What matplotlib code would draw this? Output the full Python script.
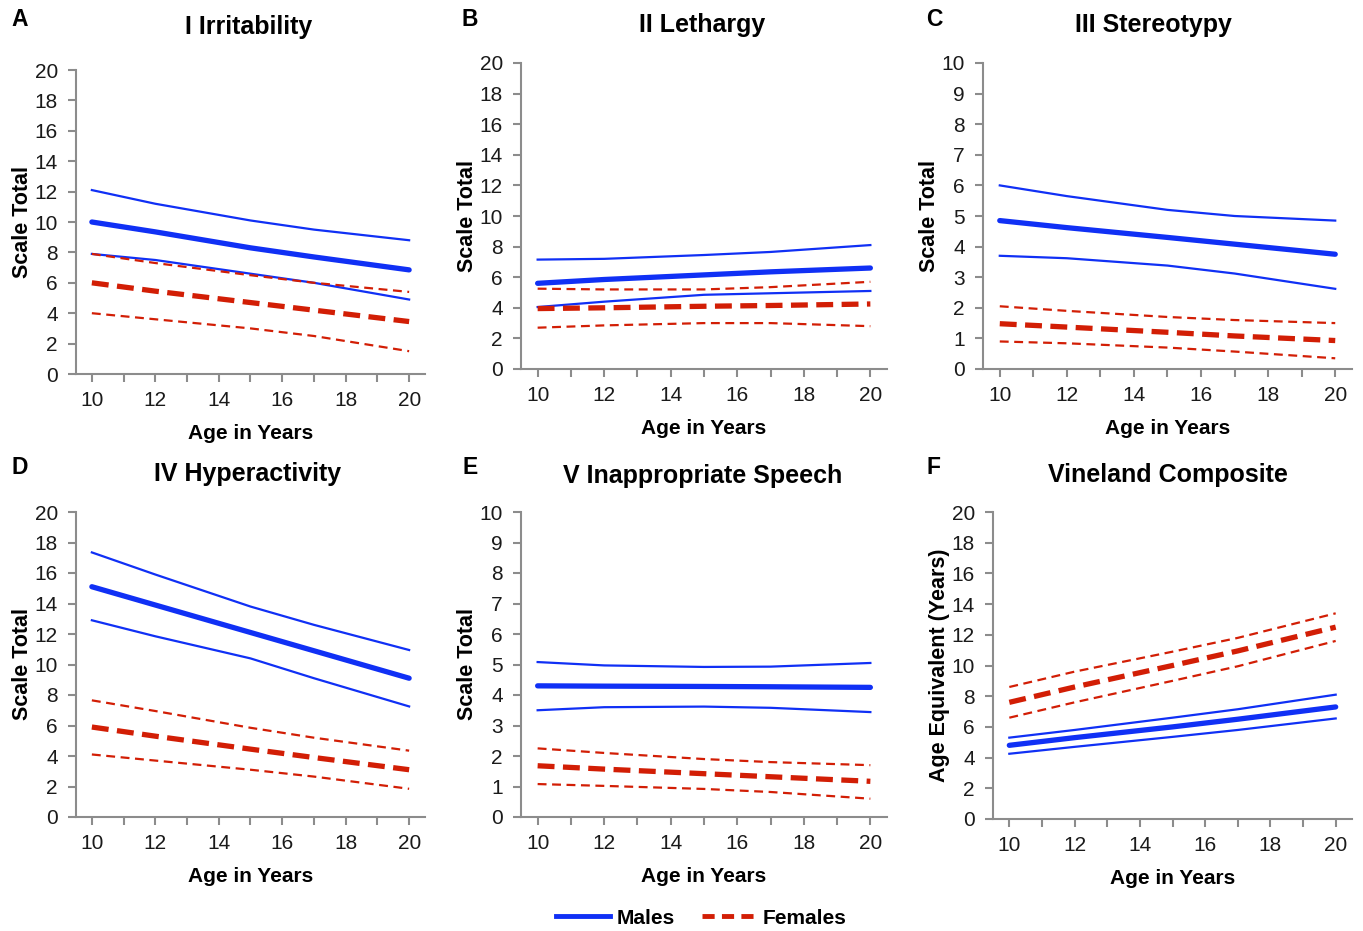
import numpy as np
import matplotlib.pyplot as plt
from matplotlib.lines import Line2D

plt.rcParams['font.family'] = ['Liberation Sans', 'DejaVu Sans']

ages = [10, 12, 15, 17, 20]

# panel A: Irritability
a_m_hi = [12.1, 11.2, 10.1, 9.5, 8.8]
a_m_mid = [10.0, 9.35, 8.3, 7.7, 6.85]
a_m_lo = [7.9, 7.5, 6.6, 6.0, 4.9]
a_f_hi = [7.9, 7.3, 6.5, 6.0, 5.4]
a_f_mid = [6.0, 5.45, 4.7, 4.2, 3.45]
a_f_lo = [4.0, 3.6, 3.0, 2.5, 1.5]

# panel B: Lethargy
b_m_hi = [7.15, 7.2, 7.45, 7.65, 8.1]
b_m_mid = [5.6, 5.85, 6.15, 6.35, 6.6]
b_m_lo = [4.05, 4.4, 4.85, 4.95, 5.1]
b_f_hi = [5.25, 5.2, 5.2, 5.35, 5.7]
b_f_mid = [3.95, 4.0, 4.1, 4.15, 4.25]
b_f_lo = [2.7, 2.85, 3.0, 3.0, 2.8]

# panel C: Stereotypy
c_m_hi = [6.0, 5.65, 5.2, 5.0, 4.85]
c_m_mid = [4.85, 4.62, 4.3, 4.08, 3.75]
c_m_lo = [3.7, 3.62, 3.38, 3.12, 2.62]
c_f_hi = [2.05, 1.9, 1.7, 1.6, 1.5]
c_f_mid = [1.48, 1.37, 1.2, 1.08, 0.93]
c_f_lo = [0.9, 0.84, 0.7, 0.57, 0.35]

# panel D: Hyperactivity
d_m_hi = [17.35, 15.9, 13.8, 12.6, 10.95]
d_m_mid = [15.1, 13.9, 12.1, 10.9, 9.1]
d_m_lo = [12.9, 11.85, 10.4, 9.1, 7.25]
d_f_hi = [7.65, 6.95, 5.85, 5.2, 4.35]
d_f_mid = [5.9, 5.3, 4.45, 3.9, 3.1]
d_f_lo = [4.1, 3.7, 3.1, 2.65, 1.85]

# panel E: Inappropriate speech
e_m_hi = [5.08, 4.97, 4.92, 4.93, 5.05]
e_m_mid = [4.3, 4.29, 4.28, 4.27, 4.25]
e_m_lo = [3.5, 3.6, 3.62, 3.58, 3.44]
e_f_hi = [2.25, 2.1, 1.9, 1.8, 1.7]
e_f_mid = [1.68, 1.57, 1.42, 1.32, 1.17]
e_f_lo = [1.08, 1.02, 0.92, 0.82, 0.6]

# panel F: Vineland composite
f_m_hi = [5.3, 5.8, 6.6, 7.15, 8.1]
f_m_mid = [4.8, 5.3, 6.0, 6.5, 7.3]
f_m_lo = [4.25, 4.7, 5.35, 5.8, 6.55]
f_f_hi = [8.6, 9.6, 10.9, 11.8, 13.4]
f_f_mid = [7.6, 8.6, 10.0, 10.95, 12.5]
f_f_lo = [6.6, 7.6, 9.0, 9.95, 11.6]

titles = ['I Irritability', 'II Lethargy', 'III Stereotypy',
          'IV Hyperactivity', 'V Inappropriate Speech', 'Vineland Composite']
letters = ['A', 'B', 'C', 'D', 'E', 'F']
ylabels = ['Scale Total'] * 5 + ['Age Equivalent (Years)']
ymax = [20, 20, 10, 20, 10, 20]

panels = [
    (a_m_hi, a_m_mid, a_m_lo, a_f_hi, a_f_mid, a_f_lo),
    (b_m_hi, b_m_mid, b_m_lo, b_f_hi, b_f_mid, b_f_lo),
    (c_m_hi, c_m_mid, c_m_lo, c_f_hi, c_f_mid, c_f_lo),
    (d_m_hi, d_m_mid, d_m_lo, d_f_hi, d_f_mid, d_f_lo),
    (e_m_hi, e_m_mid, e_m_lo, e_f_hi, e_f_mid, e_f_lo),
    (f_m_hi, f_m_mid, f_m_lo, f_f_hi, f_f_mid, f_f_lo),
]

W, H = 1363, 931
# axes boxes in pixels: left, top, right, bottom
boxes = [(76, 70, 425, 374), (521, 63, 887, 369), (983, 63, 1352, 369),
         (76, 512, 425, 817), (521, 512, 887, 817), (993, 512, 1352, 819)]
title_xy = [(249, 27), (702, 25), (1153, 25), (248, 474), (703, 476), (1168, 475)]
letter_xy = [(20, 20), (470, 20), (934, 20), (20, 467), (470, 467), (934, 467)]

blue = '#1030f5'
red = '#d21e05'
grey = '#8c8c8c'

fig = plt.figure(figsize=(W / 100, H / 100), dpi=100)

for i, (l, t, r, b) in enumerate(boxes):
    ax = fig.add_axes([l / W, 1 - b / H, (r - l) / W, (b - t) / H])
    m_hi, m_mid, m_lo, f_hi, f_mid, f_lo = panels[i]
    ax.plot(ages, m_hi, color=blue, lw=1.6)
    ax.plot(ages, m_lo, color=blue, lw=1.6)
    ax.plot(ages, m_mid, color=blue, lw=3.8, solid_capstyle='round')
    ax.plot(ages, f_hi, color=red, lw=1.6, dashes=(4, 2.5))
    ax.plot(ages, f_lo, color=red, lw=1.6, dashes=(4, 2.5))
    ax.plot(ages, f_mid, color=red, lw=3.8, dashes=(3.2, 1.6))

    ax.set_xlim(9.5, 20.5)
    ax.set_ylim(0, ymax[i])
    ax.set_xticks(range(10, 21, 2))
    ax.set_xticks(range(10, 21), minor=True)
    ax.set_yticks(range(0, ymax[i] + 1, 2 if ymax[i] == 20 else 1))
    for s in ['top', 'right']:
        ax.spines[s].set_visible(False)
    for s in ['left', 'bottom']:
        ax.spines[s].set_color(grey)
        ax.spines[s].set_linewidth(1.5)
    ax.tick_params(which='both', color=grey, width=1.5, length=6,
                   labelsize=15, labelcolor='#1a1a1a')
    ax.tick_params(axis='y', pad=7)
    ax.tick_params(axis='x', which='major', pad=6)
    ax.set_xlabel('Age in Years', fontsize=15, fontweight='bold', labelpad=10)
    ax.set_ylabel(ylabels[i], fontsize=15.5, fontweight='bold', labelpad=1)

    tx, ty = title_xy[i]
    fig.text(tx / W, 1 - ty / H, titles[i], fontsize=18, fontweight='bold',
             ha='center', va='center')
    lx, ly = letter_xy[i]
    fig.text(lx / W, 1 - ly / H, letters[i], fontsize=16.5, fontweight='bold',
             ha='center', va='center')

handles = [Line2D([], [], color=blue, lw=3.5),
           Line2D([], [], color=red, lw=3.5, dashes=(2.5, 1.5))]
fig.legend(handles, ['Males', 'Females'], loc='center', ncol=2,
           bbox_to_anchor=(701 / W, 1 - 918 / H), frameon=False,
           prop={'size': 15, 'weight': 'bold'}, handlelength=2.6,
           columnspacing=1.3, handletextpad=0.3)

fig.savefig('out.png', dpi=100)
